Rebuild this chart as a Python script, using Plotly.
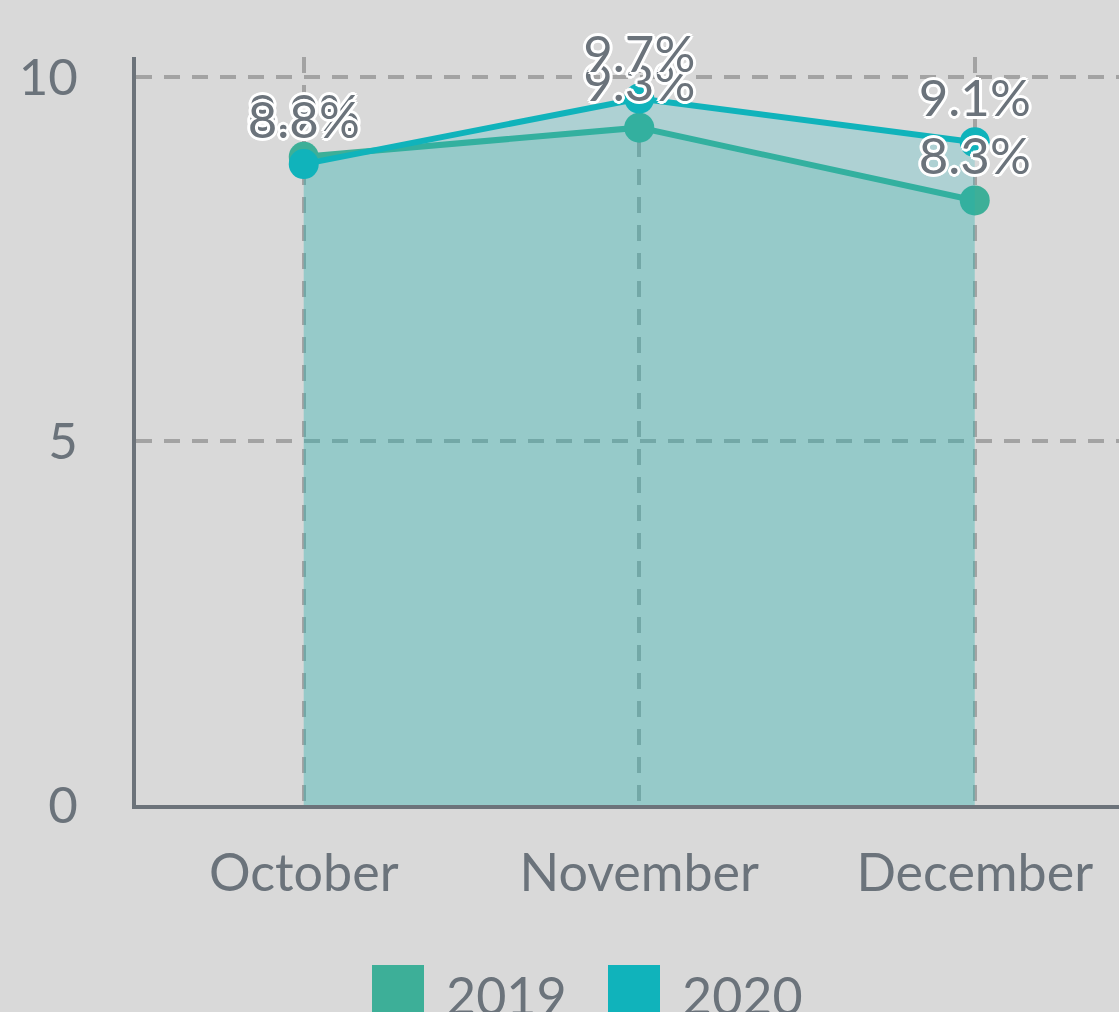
import plotly.graph_objects as go

months = ["October", "November", "December"]
series_names = ["2019", "2020"]
values_2019 = [8.9, 9.3, 8.3]
values_2020 = [8.8, 9.7, 9.1]
y_ticks = [0, 5, 10]

colors = ["#3daf98", "#10b3bb"]
fills = ["rgba(61,175,152,0.19)", "rgba(16,179,187,0.21)"]
text_color = "#6b737b"
axis_color = "#6c737a"
grid_color = "#a3a3a3"
font_family = "Lato, 'Open Sans', sans-serif"

outline = ", ".join(
    f"white {dx}px {dy}px 0"
    for dx, dy in [(3, 0), (-3, 0), (0, 3), (0, -3), (2, 2), (-2, 2), (2, -2), (-2, -2)]
)

all_values = [values_2019, values_2020]
fig = go.Figure()
for name, vals, c, fc in zip(series_names, all_values, colors, fills):
    fig.add_trace(go.Scatter(
        x=months, y=vals, name=name,
        mode="lines+markers",
        line=dict(color=c, width=6),
        marker=dict(color=c, size=30),
        fill="tozeroy", fillcolor=fc,
        showlegend=False,
        cliponaxis=False,
    ))
# value labels drawn above all lines
for name, vals in zip(series_names, all_values):
    fig.add_trace(go.Scatter(
        x=months, y=vals, name=name + " labels",
        mode="markers+text",
        marker=dict(size=20, opacity=0),
        text=[f"{v}%" for v in vals],
        textposition="top center",
        textfont=dict(family=font_family, size=51, color=text_color, shadow=outline),
        showlegend=False, hoverinfo="skip",
        cliponaxis=False,
    ))

fig.update_layout(
    width=1119, height=1012,
    paper_bgcolor="#d9d9d9", plot_bgcolor="#d9d9d9",
    margin=dict(l=136, r=0, t=57, b=207),
    font=dict(family=font_family, color=text_color, size=51),
    showlegend=False,
)
fig.update_xaxes(
    range=[-0.5, 2.43],
    showline=True, linecolor=axis_color, linewidth=4,
    showgrid=True, gridcolor=grid_color, griddash="16px,12px", gridwidth=4,
    ticks="", ticklabelstandoff=20,
    tickfont=dict(size=52, color=text_color),
    zeroline=False,
)
fig.update_yaxes(
    range=[0, 10.27],
    tickvals=y_ticks,
    showline=True, linecolor=axis_color, linewidth=4,
    showgrid=True, gridcolor=grid_color, griddash="16px,12px", gridwidth=4,
    ticks="", ticklabelstandoff=44,
    tickfont=dict(size=51, color=text_color),
    zeroline=False,
)

# Legend drawn manually (large square swatches)
legend_items = [(series_names[0], colors[0], 372), (series_names[1], colors[1], 608)]
for name, c, xpx in legend_items:
    x0 = (xpx - 136) / 983
    x1 = (xpx + 52 - 136) / 983
    fig.add_shape(
        type="rect", xref="paper", yref="paper",
        x0=x0, x1=x1, y0=(805 - 1017) / 748, y1=(805 - 965) / 748,
        fillcolor=c, line=dict(width=0), layer="above",
    )
    fig.add_annotation(
        xref="paper", yref="paper",
        x=(xpx + 72 - 136) / 983, y=(805 - 995) / 748,
        text=name, showarrow=False, xanchor="left", yanchor="middle",
        font=dict(size=52, color=text_color, family=font_family),
    )

fig.write_html("out.html", config={"displayModeBar": False},
               post_script="document.body.style.margin='0';")
